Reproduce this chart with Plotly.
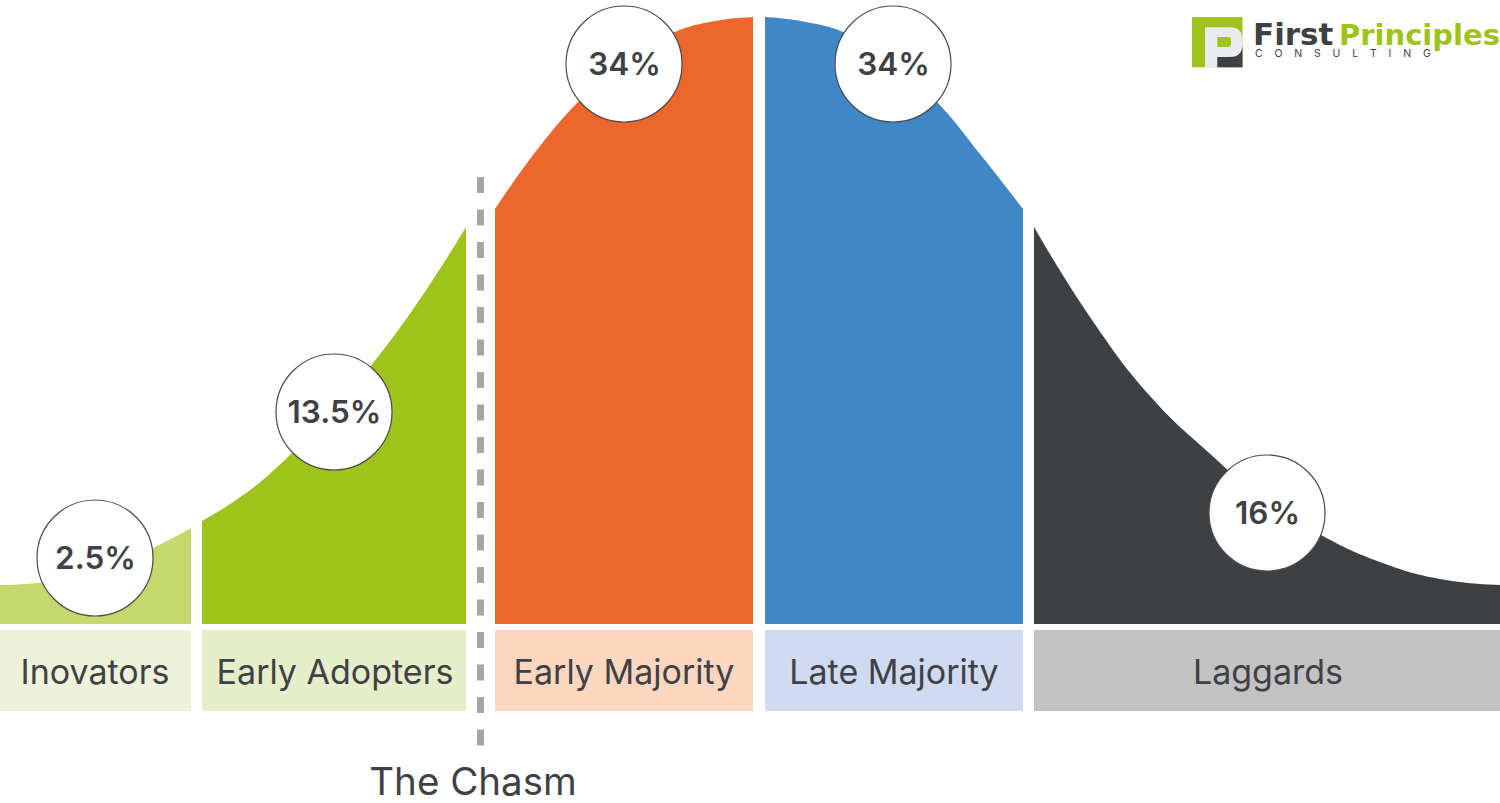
import plotly.graph_objects as go

# --- data (pixel-scale axes) ---
BASELINE = 624
categories = ["Inovators", "Early Adopters", "Early Majority", "Late Majority", "Laggards"]
category_x = [95, 335, 624, 894, 1268]
shares = ["2.5%", "13.5%", "34%", "34%", "16%"]
band_left = [0, 202, 495, 765, 1034]
band_right = [191, 466, 753, 1023, 1500]
band_top = 630
band_bottom = 711

inov_x = [0, 48, 96, 144, 191]
inov_y = [585, 581.5, 570, 552, 528]
adopt_x = [202, 246, 290, 332, 373, 420, 466]
adopt_y = [521, 493, 455, 411, 363, 299, 227]
early_x = [495, 540, 585, 625, 670, 712, 753]
early_y = [209, 146, 95, 60, 34, 21.5, 17]
late_x = [765, 806, 848, 893, 938, 980, 1023]
late_y = [17, 22, 34, 61, 103, 154, 209]
lag_x = [1034, 1092, 1150, 1208, 1266, 1321, 1380, 1440, 1500]
lag_y = [227, 320, 396, 452, 501, 535, 562, 579, 585]

bubble_x = [95, 334, 624, 893, 1267]
bubble_y = [558, 412, 64, 64, 513]

chasm_x = [480.5, 480.5]
chasm_y = [177, 746]
chasm_label = "The Chasm"

area_colors = ["#c5d86d", "#9ec41c", "#ed672c", "#3f87c5", "#3e4143"]
band_colors = ["#eef2d8", "#e6edc9", "#fdd6bf", "#cfd9ef", "#c3c2c3"]
INK = "#3e4145"
GREEN = "#9ec41c"
FONT = "Inter"

fig = go.Figure()

# bands under the curve
fig.add_trace(go.Bar(
    x=[(a + b) / 2 for a, b in zip(band_left, band_right)],
    y=[band_bottom - band_top] * 5,
    base=[band_top] * 5,
    width=[b - a for a, b in zip(band_left, band_right)],
    marker=dict(color=band_colors, line=dict(width=0)),
    hoverinfo="skip",
))

# curve segments: invisible baseline + smooth top filled down to it
segs = [(inov_x, inov_y), (adopt_x, adopt_y), (early_x, early_y), (late_x, late_y), (lag_x, lag_y)]
for (xs, ys), col in zip(segs, area_colors):
    fig.add_trace(go.Scatter(x=xs, y=[BASELINE] * len(xs), mode="lines",
                             line=dict(width=0), hoverinfo="skip"))
    fig.add_trace(go.Scatter(x=xs, y=ys, mode="lines", fill="tonexty", fillcolor=col,
                             line=dict(width=0, shape="spline", smoothing=1.3, color=col), hoverinfo="skip"))

# chasm dashed line
fig.add_trace(go.Scatter(x=chasm_x, y=chasm_y, mode="lines",
                         line=dict(color="#a6a6a8", width=7, dash="16px,16.5px"), hoverinfo="skip"))
fig.add_trace(go.Scatter(x=[473], y=[785], mode="text", text=[chasm_label],
                         textposition="middle center",
                         textfont=dict(family=FONT, size=38.5, color=INK), hoverinfo="skip"))

# bubbles
fig.add_trace(go.Scatter(x=bubble_x, y=bubble_y, mode="markers",
                         marker=dict(size=116, color="white", line=dict(color="#4a4a4c", width=1.2)),
                         hoverinfo="skip"))
fig.add_trace(go.Scatter(x=[v + 0.5 for v in bubble_x], y=[v + 3 for v in bubble_y], mode="text", text=shares,
                         textposition="middle center",
                         textfont=dict(family=FONT, size=31.5, color=INK, weight=600),
                         hoverinfo="skip"))

# band labels
fig.add_trace(go.Scatter(x=category_x, y=[675] * 5, mode="text", text=categories,
                         textposition="middle center",
                         textfont=dict(family=FONT, size=34, color=INK), hoverinfo="skip"))

# logo
logo_shapes = [
    dict(type="rect", x0=1192, x1=1242.5, y0=17, y1=67.3, fillcolor=GREEN, line_width=0),
    dict(type="rect", x0=1217, x1=1242.5, y0=47, y1=67.3, fillcolor="#3e4143", line_width=0),
    dict(type="path",
         path="M1205,27.3 L1230,27.3 Q1242.5,27.3 1242.5,40 L1242.5,44 Q1242.5,57 1230,57 L1217.3,57 L1217.3,67.3 L1205,67.3 Z",
         fillcolor="#e9ebee", line_width=0),
    dict(type="path",
         path="M1217.3,37 L1228,37 Q1231,37 1231,40 L1231,44 Q1231,47 1228,47 L1217.3,47 Z",
         fillcolor=GREEN, line_width=0),
]
fig.add_trace(go.Scatter(x=[1253], y=[37.5], mode="text", text=["First"],
                         textposition="middle right",
                         textfont=dict(family="DejaVu Sans", size=31, weight=700, color="#3e4143"),
                         hoverinfo="skip"))
fig.add_trace(go.Scatter(x=[1339], y=[37.5], mode="text", text=["Principles"],
                         textposition="middle right",
                         textfont=dict(family="DejaVu Sans", size=29, weight=700, color=GREEN),
                         hoverinfo="skip"))
logo_sub = "\u00a0\u00a0\u00a0\u00a0".join("CONSULTING")
fig.add_trace(go.Scatter(x=[1255], y=[54], mode="text", text=[logo_sub],
                         textposition="middle right",
                         textfont=dict(family="Inter", size=10.5, color="#3e4143"), hoverinfo="skip"))

fig.update_layout(
    width=1500, height=803, margin=dict(l=0, r=0, t=0, b=0, pad=0),
    paper_bgcolor="white", plot_bgcolor="white", showlegend=False, shapes=logo_shapes,
    xaxis=dict(range=[0, 1500], visible=False, fixedrange=True),
    yaxis=dict(range=[803, 0], visible=False, fixedrange=True),
    bargap=0,
)
fig.write_html("out.html", config=dict(displayModeBar=False),
               post_script="document.body.style.margin='0';")
